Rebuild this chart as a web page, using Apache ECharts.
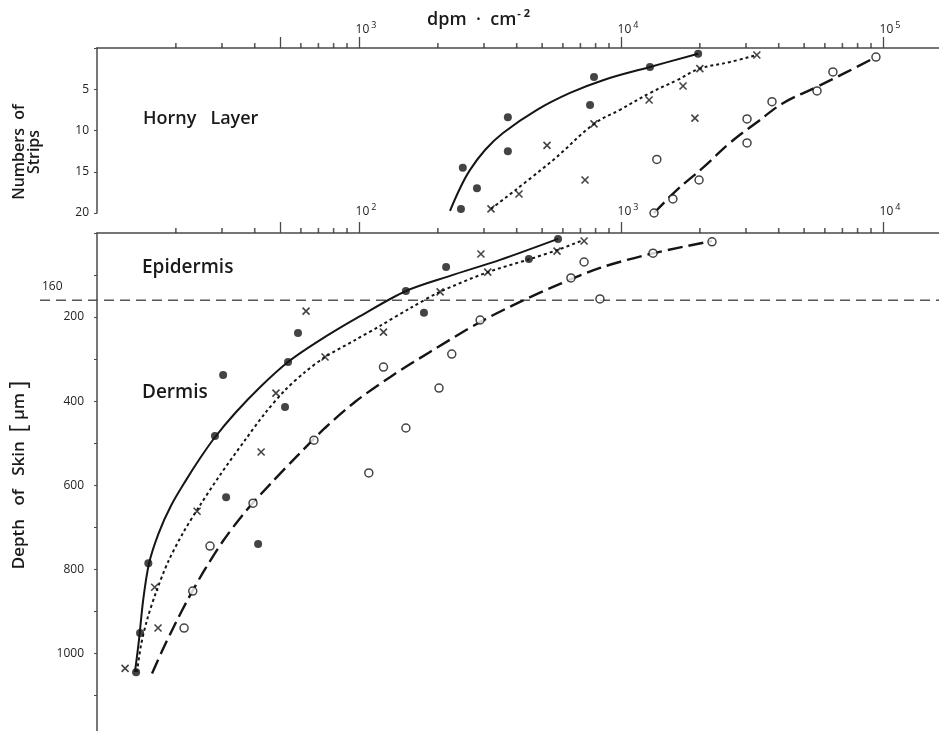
<!DOCTYPE html>
<html><head><meta charset="utf-8">
<script src="https://cdn.jsdelivr.net/npm/echarts@6/dist/echarts.min.js"></script>
<style>html,body{margin:0;padding:0;background:#fff}#c{width:939px;height:731px}</style>
</head><body><div id="c"></div>
<script>
// ---------- Upper panel: Horny Layer (x: dpm·cm^-2, y: number of strips) ----------
const hornyFilled = [[19700,0.7],[12900,2.3],[7890,3.5],[7620,6.9],[3700,8.4],[3700,12.5],[2490,14.5],[2820,17.0],[2450,19.5]];
const hornyCross  = [[33000,0.85],[20000,2.5],[17250,4.6],[12800,6.3],[19150,8.5],[7890,9.2],[5220,11.8],[7290,16.0],[4080,17.7],[3190,19.5]];
const hornyOpen   = [[94000,1.1],[64400,2.9],[56000,5.2],[37700,6.5],[30270,8.6],[30270,11.5],[13700,13.5],[19860,16.0],[15780,18.3],[13370,20.0]];
const hornySolidCurve  = [[2225,19.75],[2430,17.0],[2650,14.8],[3027,12.36],[3545,10.3],[4780,7.5],[6390,5.45],[8540,3.9],[12900,2.3],[19700,0.7]];
const hornyDottedCurve = [[3190,19.5],[5500,13.6],[7890,9.2],[9910,7.5],[12900,5.45],[16360,3.9],[20000,2.5],[26060,1.7],[33000,0.85]];
const hornyDashedCurve = [[13370,20],[16360,17.2],[20560,14.5],[26060,11.5],[33040,9.0],[41500,6.7],[56000,4.7],[72900,2.9],[94000,1.1]];

// ---------- Lower panel: Skin depth (x: dpm·cm^-2, y: depth in µm) ----------
const skinFilled = [[575,14],[445,62],[215,81],[151,138],[177,190],[58.5,238],[53.6,307],[30.3,338],[52.2,414],[28.2,483],[31.1,629],[41.2,740],[15.7,786],[14.6,952],[14.1,1045]];
const skinCross  = [[723,19],[570,43],[292,50],[310,93],[204,140],[62.8,186],[124,236],[74.2,295],[48.2,381],[42.3,521],[24.1,662],[16.6,843],[17.1,940],[12.8,1036]];
const skinOpen   = [[2225,21],[1325,48],[723,69],[644,107],[831,157],[290,207],[226,288],[124,319],[202,369],[67.3,493],[151,464],[109,571],[39.4,643],[27.0,745],[23.2,852],[21.5,940]];
const skinSolidCurve  = [[13.96,1045],[14.46,969],[15.0,874],[15.8,786],[17.2,714],[19.2,648],[21.87,588],[24.73,536],[28.20,486],[33.63,429],[41.89,367],[53.58,307],[70.97,255],[100.9,198],[151.1,138],[222.5,102],[345.3,64],[574.9,14]];
const skinDottedCurve = [[14.21,1045],[14.72,981],[15.52,921],[16.80,855],[18.66,783],[21.29,714],[24.73,648],[29.48,576],[36.72,493],[43.77,429],[52.20,374],[62.23,331],[74.19,295],[96.5,255],[120.3,221],[156.6,179],[203.8,140],[310.8,93],[449.5,62],[574.9,40],[716.1,17]];
const skinDashedCurve = [[16.22,1048],[17.86,990],[19.85,931],[22.44,867],[25.84,800],[30.27,733],[36.72,664],[45.74,598],[58.0,531],[74.19,464],[96.5,402],[131.3,343],[186.6,283],[289.6,212],[411.7,164],[585.3,121],[831.8,83],[1290,50],[2225,19]];

const boundaryDepth = [160];

// ---------- Axis ticks / labels ----------
const topMajorTicks = [500, 1000, 10000, 100000];
const topMinorTicks = [200,300,400,600,700,800,900,2000,3000,4000,5000,6000,7000,8000,9000,20000,30000,40000,50000,60000,70000,80000,90000];
const topLabels = [1000, 10000, 100000];
const botMajorTicks = [50, 100, 1000, 10000];
const botMinorTicks = [20,30,40,60,70,80,90,200,300,400,500,600,700,800,900,2000,3000,4000,5000,6000,7000,8000,9000];
const botLabels = [100, 1000, 10000];
const stripLabels = [5, 10, 15, 20];
const depthLabels = [200, 400, 600, 800, 1000];

const FONT = "'Open Sans', 'DejaVu Sans', sans-serif";
const INK = '#151515';
const AX = '#4a4a4a';

const chart = echarts.init(document.getElementById('c'));

function logLabel(v){ return '{b|10}{s|' + Math.round(Math.log10(v)) + '}'; }
const supRich = {
  b: {fontSize: 12, color: '#222', fontFamily: FONT},
  s: {fontSize: 9, color: '#222', fontFamily: FONT, padding: [0,0,8,2]}
};

function majorAxis(grid, min, max, labels, ticks, margin){
  return {
    type: 'log', logBase: 10, gridIndex: grid, position: 'top', min: min, max: max,
    axisLine: {show: true, onZero: false, lineStyle: {color: AX, width: 1.5}},
    axisTick: {show: true, inside: false, length: 11, interval: 0, customValues: ticks, lineStyle: {color: AX, width: 1.3}},
    axisLabel: {show: true, customValues: labels, margin: margin, formatter: logLabel, rich: supRich, padding: [0,0,0,14]},
    splitLine: {show: false}, minorTick: {show: false}
  };
}

function tickSeries(x, y, values){
  return {type: 'scatter', xAxisIndex: x, yAxisIndex: y, clip: false, silent: true, z: 6,
    data: values.map(v => [v, 0]), symbol: 'rect', symbolSize: [1.6, 5], symbolOffset: [0, -2.5],
    itemStyle: {color: '#333'}};
}

function lineSeries(x, y, data, type, width, smooth){
  return {type: 'line', xAxisIndex: x, yAxisIndex: y, data: data, symbol: 'none', smooth: smooth,
    lineStyle: {color: INK, width: width, type: type}, z: 3, silent: true};
}
function scatterSeries(x, y, data, kind){
  const s = {type: 'scatter', xAxisIndex: x, yAxisIndex: y, data: data, z: 5, silent: true};
  if (kind === 'filled') { s.symbol = 'circle'; s.symbolSize = 8; s.itemStyle = {color: INK}; }
  else if (kind === 'open') { s.symbol = 'circle'; s.symbolSize = 8; s.itemStyle = {color: '#fff', borderColor: INK, borderWidth: 1.5}; }
  else { s.symbol = 'path://M0,0L10,10M0,10L10,0'; s.symbolSize = 7; s.itemStyle = {color: 'none', borderColor: INK, borderWidth: 1.6}; }
  return s;
}

const TOPMAX = 163600, BOTMAX = 16360, DEPTHMAX = 1185;

chart.setOption({
  animation: false,
  backgroundColor: '#fff',
  grid: [
    {left: 97, top: 48, right: 0, height: 165},
    {left: 97, top: 233, right: 0, bottom: 0},
    {left: 40, top: 233, right: 0, bottom: 0}
  ],
  xAxis: [
    majorAxis(0, 100, TOPMAX, topLabels, topMajorTicks, 10),
    majorAxis(1, 10, BOTMAX, botLabels, botMajorTicks, 13),
    {type: 'value', gridIndex: 2, min: 0, max: 1, show: false}
  ],
  yAxis: [
    {type: 'value', gridIndex: 0, inverse: true, min: 0, max: 20, interval: 5,
     axisLine: {show: true, onZero: false, lineStyle: {color: AX, width: 1.5}},
     axisTick: {show: true, length: 3, lineStyle: {color: AX}},
     axisLabel: {customValues: stripLabels, margin: 8, fontSize: 12, color: '#222', fontFamily: FONT},
     splitLine: {show: false}},
    {type: 'value', gridIndex: 1, inverse: true, min: 0, max: DEPTHMAX, interval: 100,
     axisLine: {show: true, onZero: false, lineStyle: {color: AX, width: 1.5}},
     axisTick: {show: true, length: 3, lineStyle: {color: AX}},
     axisLabel: {customValues: depthLabels, margin: 13, fontSize: 12, color: '#222', fontFamily: FONT,
       formatter: v => String(v)},
     splitLine: {show: false}},
    {type: 'value', gridIndex: 2, inverse: true, min: 0, max: DEPTHMAX, show: false}
  ],
  graphic: [
    {type: 'text', x: 427, y: 20, style: {text: '{a|dpm  ·  cm}{s|- 2}', verticalAlign: 'middle',
      rich: {a: {fontSize: 18, fontWeight: 600, fontFamily: FONT, fill: '#1a1a1a'},
             s: {fontSize: 11, fontWeight: 700, fontFamily: FONT, fill: '#1a1a1a', padding: [0,0,12,1]}}}},
    {type: 'text', x: 27, y: 152, rotation: Math.PI/2,
      style: {text: 'Numbers  of\nStrips', align: 'center', verticalAlign: 'middle', lineHeight: 15,
        font: '600 16px ' + FONT, fill: '#1a1a1a'}},
    {type: 'text', x: 19, y: 475, rotation: Math.PI/2,
      style: {text: '{a|Depth   of   Skin  }{k|[}{a| μm }{k|]}', align: 'center', verticalAlign: 'middle',
        rich: {a: {fontSize: 17, fontWeight: 600, fontFamily: FONT, fill: '#1a1a1a'},
               k: {fontSize: 24, fontWeight: 400, fontFamily: FONT, fill: '#1a1a1a'}}}},
    {type: 'text', x: 143, y: 119, style: {text: 'Horny   Layer', verticalAlign: 'middle', font: '600 18px ' + FONT, fill: '#1a1a1a'}},
    {type: 'text', x: 142, y: 268, style: {text: 'Epidermis', verticalAlign: 'middle', font: '600 19px ' + FONT, fill: '#1a1a1a'}},
    {type: 'text', x: 142, y: 393, style: {text: 'Dermis', verticalAlign: 'middle', font: '600 19px ' + FONT, fill: '#1a1a1a'}},
    {type: 'text', x: 42, y: 287, style: {text: '160', verticalAlign: 'middle', font: '12px ' + FONT, fill: '#222'}}
  ],
  series: [
    tickSeries(0, 0, topMinorTicks),
    tickSeries(1, 1, botMinorTicks),
    lineSeries(0, 0, hornySolidCurve, 'solid', 2, 0.4),
    lineSeries(0, 0, hornyDottedCurve, [3,3], 2, 0.4),
    lineSeries(0, 0, hornyDashedCurve, [15,6], 2.4, 0.4),
    scatterSeries(0, 0, hornyFilled, 'filled'),
    scatterSeries(0, 0, hornyCross, 'cross'),
    scatterSeries(0, 0, hornyOpen, 'open'),
    lineSeries(1, 1, skinSolidCurve, 'solid', 2, 0.3),
    lineSeries(1, 1, skinDottedCurve, [3,3], 2, 0.3),
    lineSeries(1, 1, skinDashedCurve, [15,6], 2.4, 0.3),
    scatterSeries(1, 1, skinFilled, 'filled'),
    scatterSeries(1, 1, skinCross, 'cross'),
    scatterSeries(1, 1, skinOpen, 'open'),
    {type: 'line', xAxisIndex: 2, yAxisIndex: 2, symbol: 'none', silent: true,
     data: [[0, boundaryDepth[0]], [1, boundaryDepth[0]]],
     lineStyle: {color: '#555', width: 1.5, type: [10,6]}, z: 2}
  ]
});
</script></body></html>
